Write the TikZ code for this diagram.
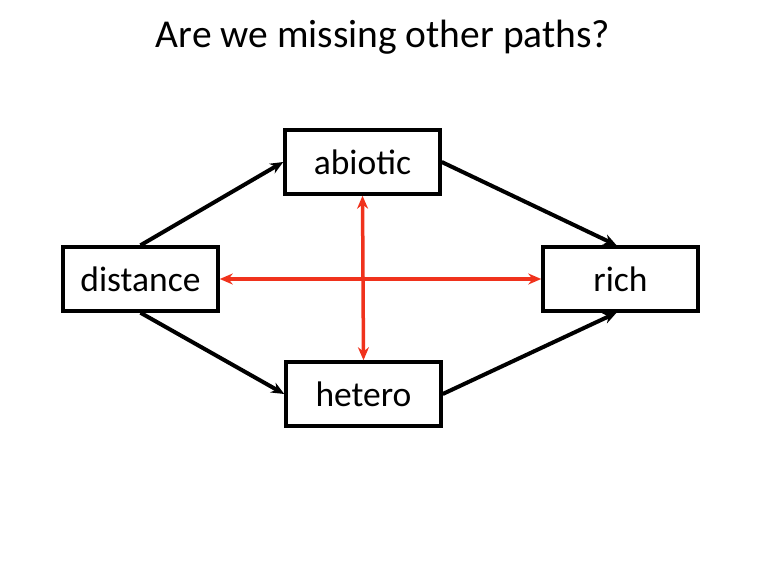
\documentclass[tikz,border=0pt]{standalone}
\usepackage{fontspec}
\setmainfont{Carlito}
\usetikzlibrary{arrows.meta}

\definecolor{pathred}{RGB}{240,50,28}

\tikzset{
  varbox/.style = {draw, line width=3.5pt, minimum width=155pt, minimum height=64pt,
    inner sep=0pt, font=\fontsize{35.5}{40}\selectfont},
  causal/.style = {line width=4pt, -{Stealth[length=13pt, width=11pt]}},
  missing/.style = {pathred, line width=3.5pt,
    {Stealth[length=13pt, width=11pt]}-{Stealth[length=13pt, width=11pt]}}
}

\begin{document}
\begin{tikzpicture}[x=1pt, y=-1pt]
    \useasboundingbox (0, 0) rectangle (767, 575);

    \node (title) at (383, 37) {\fontsize{39.5}{44}\selectfont Are we missing other paths?};

    \node [varbox] (abiotic)  at (362.5, 162) {abiotic};
    \node [varbox] (distance) at (140.5, 279) {distance};
    \node [varbox] (rich)     at (620.5, 279) {rich};
    \node [varbox] (hetero)   at (363.5, 394) {hetero};

    % direct paths
    \draw [causal] (distance.north) -- (abiotic.west);
    \draw [causal] (abiotic.east) -- ([xshift=-4pt]rich.north);
    \draw [causal] (distance.south) -- (hetero.west);
    \draw [causal] (hetero.east) -- ([xshift=-4pt]rich.south);

    % other paths
    \draw [missing] (distance.east) -- (rich.west);
    \draw [missing] (abiotic.south) -- (hetero.north);
\end{tikzpicture}
\end{document}
